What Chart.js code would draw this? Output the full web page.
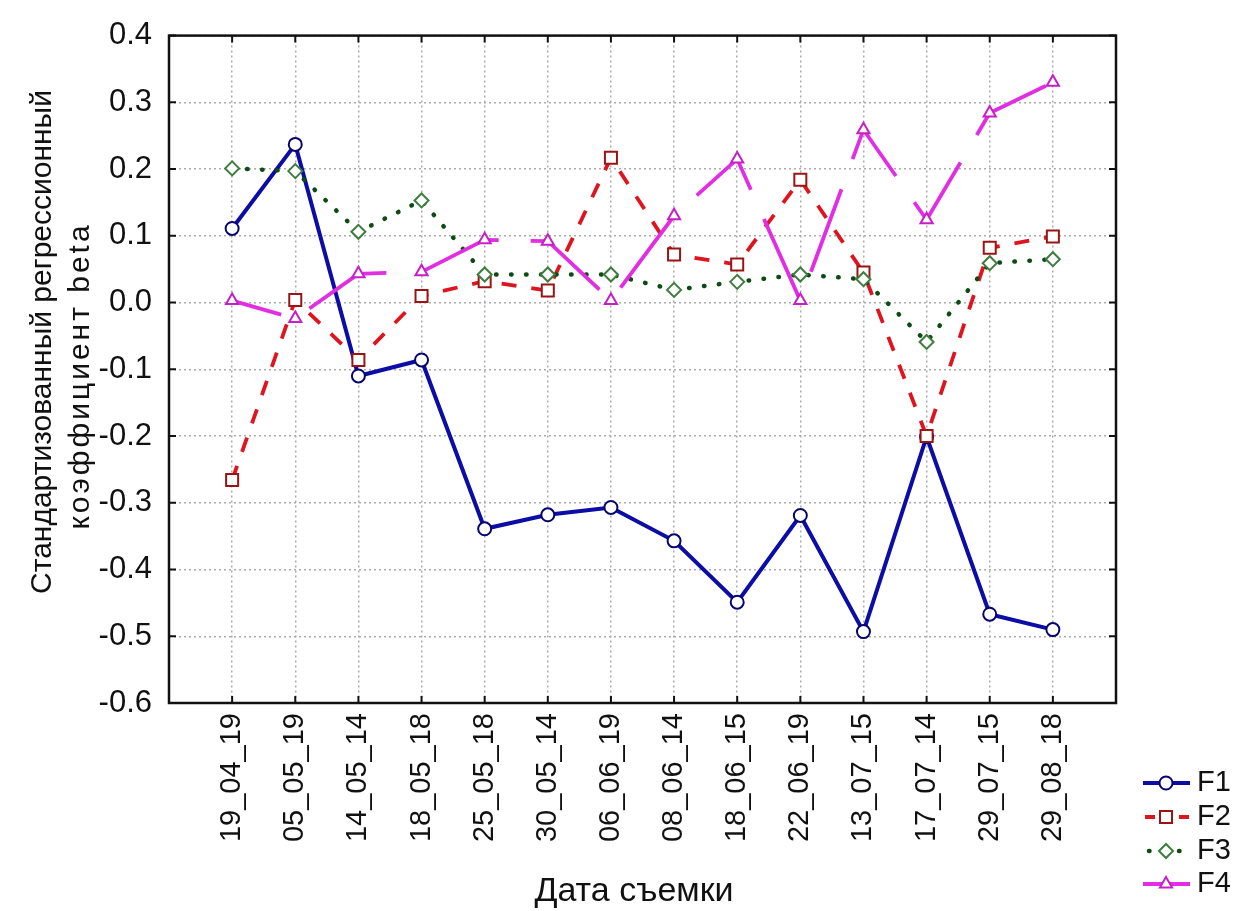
<!DOCTYPE html>
<html>
<head>
<meta charset="utf-8">
<script src="https://cdn.jsdelivr.net/npm/chart.js@4/dist/chart.umd.min.js"></script>
<style>
  html, body { margin: 0; padding: 0; background: #ffffff; }
  #wrap { width: 1236px; height: 911px; position: relative; }
</style>
</head>
<body>
<div id="wrap"><canvas id="c" width="1236" height="911"></canvas></div>
<script>
// Survey dates (x categories)
const dates = ['19_04_19', '05_05_19', '14_05_14', '18_05_18', '25_05_18', '30_05_14', '06_06_19',
               '08_06_14', '18_06_15', '22_06_19', '13_07_15', '17_07_14', '29_07_15', '29_08_18'];

// Standardized regression coefficients (beta) per factor
const f1 = [0.111, 0.237, -0.110, -0.086, -0.339, -0.318, -0.307, -0.357, -0.449, -0.319, -0.493, -0.201, -0.467, -0.490];
const f2 = [-0.266, 0.004, -0.086, 0.010, 0.032, 0.018, 0.217, 0.072, 0.057, 0.184, 0.045, -0.200, 0.082, 0.099];
const f3 = [0.201, 0.197, 0.106, 0.153, 0.042, 0.042, 0.042, 0.019, 0.031, 0.042, 0.035, -0.059, 0.059, 0.065];
const f4 = [0.003, -0.024, 0.043, 0.046, 0.094, 0.092, 0.003, 0.130, 0.215, 0.003, 0.259, 0.124, 0.284, 0.330];

const seriesNames = ['F1', 'F2', 'F3', 'F4'];

const yTitleLines = ['Стандартизованный регрессионный', 'коэффициент beta'];
const xTitle = 'Дата съемки';

const FONT = '"Liberation Sans", Arial, Helvetica, sans-serif';
Chart.defaults.font.family = FONT;
Chart.defaults.color = '#111111';

const toPoints = arr => arr.map((v, i) => ({ x: i, y: v }));
const GRID = '#ababab';

const datasets = [
  {
    label: seriesNames[0], data: toPoints(f1), order: 4,
    borderColor: '#0c0ca6', borderWidth: 4,
    pointStyle: 'circle', pointRadius: 6.5, pointBorderWidth: 2,
    pointBorderColor: '#06066e', pointBackgroundColor: '#ffffff'
  },
  {
    label: seriesNames[1], data: toPoints(f2), order: 3,
    borderColor: '#e0141e', borderWidth: 3.8, borderDash: [15, 15],
    pointStyle: 'rect', pointRadius: 8.5, pointBorderWidth: 2,
    pointBorderColor: '#9a1414', pointBackgroundColor: '#ffffff'
  },
  {
    label: seriesNames[2], data: toPoints(f3), order: 2,
    borderColor: '#0d4a14', borderWidth: 4.5, borderDash: [0.5, 14.5], borderCapStyle: 'round',
    pointStyle: 'rectRot', pointRadius: 7, pointBorderWidth: 2,
    pointBorderColor: '#3f7d3f', pointBackgroundColor: '#ffffff'
  },
  {
    label: seriesNames[3], data: toPoints(f4), order: 1,
    borderColor: '#e22ee2', borderWidth: 3.8, borderDash: [88, 32], borderDashOffset: 37,
    pointStyle: 'triangle', pointRadius: 7, pointBorderWidth: 2,
    pointBorderColor: '#c81ec8', pointBackgroundColor: '#ffffff'
  }
];

// Frame around the plot area plus inward-pointing tick marks on all four sides
const framePlugin = {
  id: 'frame',
  beforeDatasetsDraw(chart) {
    const { ctx, chartArea: a, scales } = chart;
    ctx.save();
    ctx.strokeStyle = '#111111';
    ctx.lineWidth = 2.5;
    ctx.setLineDash([]);
    ctx.strokeRect(a.left, a.top, a.right - a.left, a.bottom - a.top);
    ctx.lineWidth = 2;
    const tl = 7;
    ctx.beginPath();
    dates.forEach((d, i) => {
      const px = scales.x.getPixelForValue(i);
      ctx.moveTo(px, a.bottom); ctx.lineTo(px, a.bottom - tl);
      ctx.moveTo(px, a.top); ctx.lineTo(px, a.top + tl);
    });
    scales.y.ticks.forEach(t => {
      const py = scales.y.getPixelForValue(t.value);
      ctx.moveTo(a.left, py); ctx.lineTo(a.left + tl, py);
      ctx.moveTo(a.right, py); ctx.lineTo(a.right - tl, py);
    });
    ctx.stroke();
    ctx.restore();
  }
};

// Axis titles
const titlesPlugin = {
  id: 'titles',
  afterDraw(chart) {
    const { ctx } = chart;
    ctx.save();
    ctx.fillStyle = '#111111';
    ctx.font = '30px ' + FONT;
    ctx.textAlign = 'center';
    ctx.textBaseline = 'middle';
    const centers = [[43, 342], [81, 376]];
    const spacing = ['0px', '3px'];
    yTitleLines.forEach((line, i) => {
      ctx.save();
      ctx.letterSpacing = spacing[i];
      ctx.translate(centers[i][0], centers[i][1]);
      ctx.rotate(-Math.PI / 2);
      ctx.fillText(line, 0, 0);
      ctx.restore();
    });
    ctx.font = '34px ' + FONT;
    ctx.fillText(xTitle, 634, 892);
    ctx.restore();
  }
};

// Legend at the lower right: line sample with its marker and the series name
const legendPlugin = {
  id: 'sideLegend',
  afterDraw(chart) {
    const { ctx } = chart;
    const rows = [783, 817, 851, 884];
    const x0 = 1143, x1 = 1190, xm = 1166, xt = 1197;
    ctx.save();
    chart.data.datasets.forEach((ds, i) => {
      const y = rows[i];
      ctx.save();
      ctx.strokeStyle = ds.borderColor;
      ctx.lineWidth = ds.borderWidth;
      ctx.lineCap = ds.borderCapStyle || 'butt';
      if (ds.borderDash && i !== 3) {
        ctx.setLineDash(i === 1 ? [10, 7] : ds.borderDash);
        ctx.lineDashOffset = i === 1 ? -2 : -6;
      }
      ctx.beginPath();
      ctx.moveTo(x0, y); ctx.lineTo(x1, y);
      ctx.stroke();
      ctx.restore();
      ctx.save();
      ctx.setLineDash([]);
      ctx.strokeStyle = ds.pointBorderColor;
      ctx.fillStyle = ds.pointBackgroundColor;
      ctx.lineWidth = ds.pointBorderWidth;
      Chart.helpers.drawPoint(ctx, {
        pointStyle: ds.pointStyle, radius: ds.pointRadius, borderWidth: ds.pointBorderWidth, rotation: 0
      }, xm, y);
      ctx.restore();
      ctx.fillStyle = '#111111';
      ctx.font = '29px ' + FONT;
      ctx.textAlign = 'left';
      ctx.textBaseline = 'middle';
      ctx.fillText(ds.label, xt, y);
    });
    ctx.restore();
  }
};

new Chart(document.getElementById('c'), {
  type: 'line',
  data: { datasets },
  options: {
    responsive: false,
    animation: false,
    devicePixelRatio: 1,
    layout: { padding: { left: 0, top: 27, right: 120, bottom: 0 } },
    elements: { line: { tension: 0, fill: false } },
    plugins: { legend: { display: false }, tooltip: { enabled: false } },
    scales: {
      x: {
        type: 'linear',
        min: -1, max: dates.length,
        afterBuildTicks(scale) {
          scale.ticks = dates.map((d, i) => ({ value: i }));
        },
        afterFit(scale) { scale.height = 208; },
        grid: { color: GRID, lineWidth: 1.5, drawTicks: false },
        border: { display: false, dash: [2, 3] },
        ticks: {
          autoSkip: false, minRotation: 90, maxRotation: 90, padding: 10,
          font: { size: 29 }, color: '#111111',
          callback: v => dates[v] ?? ''
        }
      },
      y: {
        min: -0.6, max: 0.4,
        afterFit(scale) { scale.width = 169; },
        grid: { color: GRID, lineWidth: 1.5, drawTicks: false },
        border: { display: false, dash: [2, 3] },
        ticks: {
          stepSize: 0.1, padding: 17,
          font: { size: 31 }, color: '#111111',
          callback: v => { const s = Number(v).toFixed(1); return s === '-0.0' ? '0.0' : s; }
        }
      }
    }
  },
  plugins: [framePlugin, titlesPlugin, legendPlugin]
});
</script>
</body>
</html>
